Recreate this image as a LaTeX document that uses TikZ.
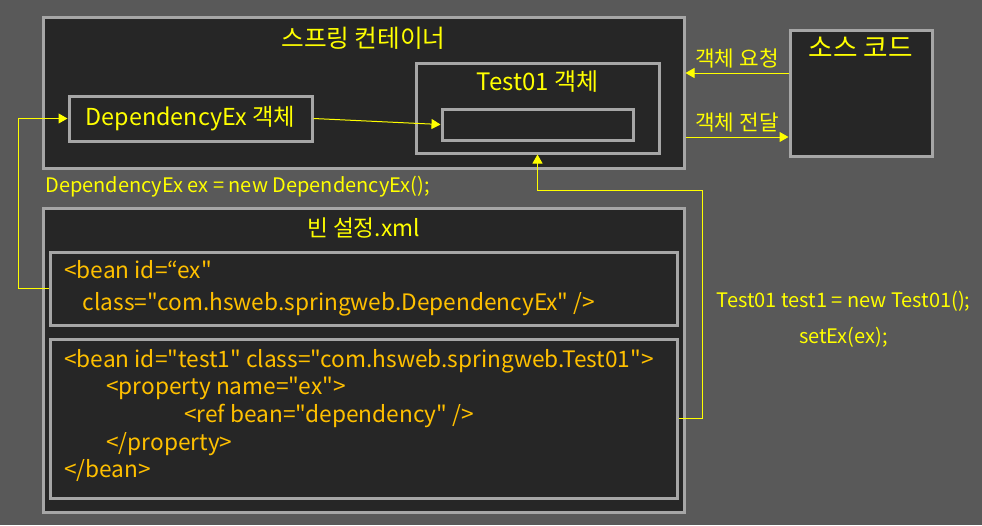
\documentclass[tikz,border=0pt]{standalone}
\usepackage{fontspec}
\setmainfont{Noto Sans CJK KR}[Ligatures=TeXOff]
\usetikzlibrary{arrows.meta}
\definecolor{bgcol}{HTML}{595959}
\definecolor{panelcol}{HTML}{262626}
\definecolor{edgecol}{HTML}{A6A6A6}
\definecolor{yel}{HTML}{FFFF00}
\definecolor{gold}{HTML}{FFC000}
\begin{document}
\begin{tikzpicture}[x=0.75pt, y=-0.75pt,
    box/.style={rectangle,draw=edgecol,fill=panelcol,line width=2.25pt,inner sep=0pt},
    title/.style={text=yel,font=\fontsize{18pt}{21pt}\selectfont},
    note/.style={text=yel,font=\fontsize{15pt}{18pt}\selectfont},
    hangul/.style={text=yel,font=\fontsize{16pt}{19pt}\selectfont},
    xml/.style={text=gold,align=left,anchor=west,inner sep=0pt},
    flow/.style={draw=yel,line width=0.75pt,-{Triangle[length=6.75pt,width=7.5pt]}}]
    \path[use as bounding box,fill=bgcol] (0,0) rectangle (982,525);
    % Spring container
    \node[box,minimum width=480.75pt,minimum height=113.25pt] (container) at (363.5,92.5) {};
    \node[title,font=\fontsize{18.5pt}{21pt}\selectfont] (containertitle) at (363.5,38) {스프링 컨테이너};
    \node[box,title,font=\fontsize{17.5pt}{21pt}\selectfont,minimum width=182.25pt,minimum height=33.75pt] (dep) at (190.5,118.5) {DependencyEx 객체};
    \node[box,minimum width=182.25pt,minimum height=67.5pt] (test) at (537.5,108) {};
    \node[title] (testtitle) at (537.5,82) {Test01 객체};
    \node[box,minimum width=143.25pt,minimum height=23.25pt] (slot) at (537.5,124.5) {};
    % Source code
    \node[box,minimum width=106.5pt,minimum height=94.5pt] (source) at (861,93) {};
    \node[title,font=\fontsize{20pt}{23pt}\selectfont] (sourcetitle) at (861,47) {소스 코드};
    % Bean settings
    \node[box,minimum width=480.75pt,minimum height=228pt] (beans) at (363.5,360) {};
    \node[title,font=\fontsize{17pt}{20pt}\selectfont] (beanstitle) at (363.5,228) {빈 설정.xml};
    \node[box,minimum width=470.25pt,minimum height=54.75pt] (beanex) at (363.5,288.5) {};
    \node[box,minimum width=470.25pt,minimum height=119.25pt] (beantest) at (363.5,418.5) {};
    \node[xml,font=\fontsize{17pt}{24pt}\selectfont] (xmlex) at (64,288)
        {<bean id=“ex"\\\hspace{14pt}class="com.hsweb.springweb.DependencyEx" />};
    \node[xml,font=\fontsize{17pt}{20.8pt}\selectfont] (xmltest) at (64,415.5)
        {<bean id="test1" class="com.hsweb.springweb.Test01">\\
         \hspace{31.5pt}<property name="ex">\\
         \hspace{90pt}<ref bean="dependency" />\\
         \hspace{31.5pt}</property>\\
         </bean>};
    % Code notes
    \node[note,anchor=west,inner sep=0pt] (depnew) at (45,187) {DependencyEx ex = new DependencyEx();};
    \node[note] (testnew) at (843.5,301) {Test01 test1 = new Test01();};
    \node[note] (setex) at (843.5,337) {setEx(ex);};
    % Arrows
    \coordinate (req) at (0,73);
    \coordinate (give) at (0,137);
    \coordinate (bend) at (702,190);
    \draw[flow] (dep.east) -- (slot.west);
    \draw[flow] (source.west |- req) -- node[hangul,above] (reqlabel) {객체 요청} (container.east |- req);
    \draw[flow] (container.east |- give) -- node[hangul,above] (givelabel) {객체 전달} (source.west |- give);
    \draw[flow] (beanex.west) -- ++(-30,0) |- (dep.west);
    \draw[flow] (beantest.east) -| (bend) -| (test.south);
\end{tikzpicture}
\end{document}
